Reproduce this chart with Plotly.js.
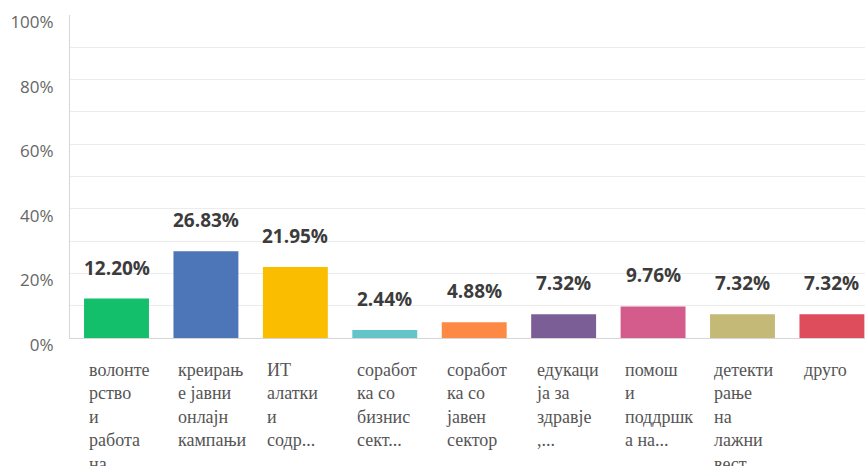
<!DOCTYPE html>
<html>
<head>
<meta charset="utf-8">
<script src="https://cdn.plot.ly/plotly-3.0.1.min.js"></script>
<style>html,body{margin:0;padding:0;background:#fff;}#chart{width:865px;height:466px;}</style>
</head>
<body>
<div id="chart"></div>
<script>
const categories = [
  "волонте<br>рство<br>и<br>работа<br>на",
  "креирањ<br>е јавни<br>онлајн<br>кампањи",
  "ИТ<br>алатки<br>и<br>содр...",
  "соработ<br>ка со<br>бизнис<br>сект...",
  "соработ<br>ка со<br>јавен<br>сектор",
  "едукаци<br>ја за<br>здравје<br>,...",
  "помош<br>и<br>поддршк<br>а на...",
  "детекти<br>рање<br>на<br>лажни<br>вест",
  "друго"
];
const values = [12.20, 26.83, 21.95, 2.44, 4.88, 7.32, 9.76, 7.32, 7.32];
const valueLabels = ["12.20%", "26.83%", "21.95%", "2.44%", "4.88%", "7.32%", "9.76%", "7.32%", "7.32%"];
const colors = ["#14bf6b", "#4d76b8", "#fbbd00", "#63c5c8", "#fd8a44", "#7c5e97", "#d45c8c", "#c5b977", "#de4d5b"];
const yTickVals = [0, 20, 40, 60, 80, 100];
const yTickText = ["0%", "20%", "40%", "60%", "80%", "100%"];

const idx = categories.map((c, i) => i);

const trace = {
  type: "bar",
  x: idx,
  y: values,
  width: 0.726,
  marker: {color: colors},
  hoverinfo: "none"
};

const serif = "Liberation Serif, DejaVu Serif, Times New Roman, serif";

const annotations = [];
idx.forEach(i => {
  annotations.push({
    x: i, y: values[i], xref: "x", yref: "y",
    text: valueLabels[i], showarrow: false,
    xanchor: "center", yanchor: "bottom", yshift: 16,
    font: {family: "Open Sans", size: 19, color: "#3c3c3c", weight: 700}
  });
  annotations.push({
    x: i, y: 0, xref: "x", yref: "paper",
    text: categories[i], showarrow: false,
    xanchor: "left", yanchor: "top", align: "left",
    xshift: -30, yshift: -20,
    font: {family: serif, size: 18, color: "#555555"}
  });
});

const layout = {
  width: 865, height: 466,
  margin: {l: 70, r: 0, t: 15, b: 128},
  paper_bgcolor: "#ffffff",
  plot_bgcolor: "#ffffff",
  showlegend: false,
  xaxis: {
    range: [-0.52, 8.37],
    showticklabels: false, showgrid: false, zeroline: false,
    showline: true, linecolor: "#d6d6d6", linewidth: 1,
    ticks: "", fixedrange: true
  },
  yaxis: {
    range: [0, 100],
    tickvals: yTickVals, ticktext: yTickText,
    showgrid: true, gridcolor: "#ececec", zeroline: false,
    minor: {dtick: 10, tick0: 0, showgrid: true, gridcolor: "#ececec", ticks: ""},
    showline: true, linecolor: "#d6d6d6", linewidth: 1,
    ticks: "", ticklabelstandoff: 12, ticklabelshift: 7,
    tickfont: {family: "Open Sans", size: 17, color: "#666666"},
    fixedrange: true
  },
  annotations: annotations
};

Plotly.newPlot("chart", [trace], layout, {displayModeBar: false, staticPlot: true});
</script>
</body>
</html>
